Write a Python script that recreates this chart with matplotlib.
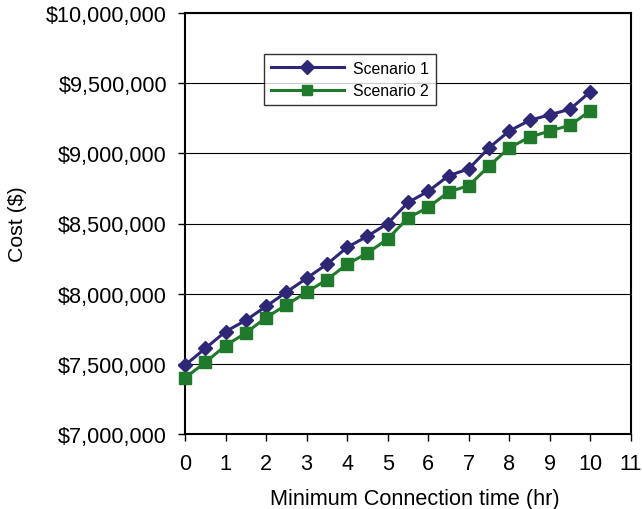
import matplotlib
matplotlib.use("Agg")
import matplotlib.pyplot as plt
from matplotlib.ticker import FuncFormatter

plt.rcParams['font.family'] = ['Liberation Sans', 'DejaVu Sans']

hours = [0, 0.5, 1, 1.5, 2, 2.5, 3, 3.5, 4, 4.5, 5, 5.5, 6, 6.5, 7, 7.5, 8, 8.5, 9, 9.5, 10]
scenario1 = [7490000, 7610000, 7730000, 7810000, 7910000, 8010000, 8110000, 8210000, 8330000, 8410000,
             8500000, 8650000, 8730000, 8840000, 8890000, 9040000, 9160000, 9235000, 9275000, 9315000, 9440000]
scenario2 = [7400000, 7510000, 7630000, 7720000, 7830000, 7920000, 8010000, 8100000, 8210000, 8290000,
             8390000, 8540000, 8615000, 8725000, 8770000, 8910000, 9040000, 9115000, 9160000, 9200000, 9305000]
labels = ["Scenario 1", "Scenario 2"]
x_ticks = list(range(0, 12))
y_ticks = [7000000, 7500000, 8000000, 8500000, 9000000, 9500000, 10000000]

fig = plt.figure(figsize=(6.42, 5.10), dpi=100)
ax = fig.add_axes([185/642, 75/510, 446/642, 421/510])

c1 = "#2E2677"
c2 = "#1F7A2B"
ax.plot(hours, scenario1, color=c1, lw=2.2, marker='D', ms=7, label=labels[0], zorder=3, clip_on=False)
ax.plot(hours, scenario2, color=c2, lw=2.2, marker='s', ms=8, label=labels[1], zorder=3, clip_on=False)

ax.set_xlim(0, 11)
ax.set_ylim(7000000, 10000000)
ax.set_xticks(x_ticks)
ax.set_yticks(y_ticks)
ax.yaxis.set_major_formatter(FuncFormatter(lambda v, p: "${:,.0f}".format(v)))
ax.grid(axis='y', color='black', lw=0.8)
ax.set_axisbelow(True)
for s in ax.spines.values():
    s.set_linewidth(1.5)
    s.set_color('black')
ax.tick_params(axis='both', direction='out', length=5, width=1, labelsize=15.6, colors='black')
ax.tick_params(axis='y', pad=8)
ax.tick_params(axis='x', pad=9)

ax.set_xlabel("Minimum Connection time (hr)", fontsize=15.6)
ax.xaxis.set_label_coords(0.515, -0.128)
ax.set_ylabel("Cost ($)", fontsize=15.3, labelpad=13.5)

leg = ax.legend(loc='upper left', bbox_to_anchor=(0.177, 0.903), borderaxespad=0, frameon=True,
                fancybox=False, edgecolor='black', fontsize=11.4, handlelength=4.6, borderpad=0.45,
                labelspacing=0.45, handletextpad=0.6)
leg.get_frame().set_linewidth(1.0)
for h in leg.legend_handles:
    h.set_markersize(7)

fig.savefig("out.png", dpi=100)
